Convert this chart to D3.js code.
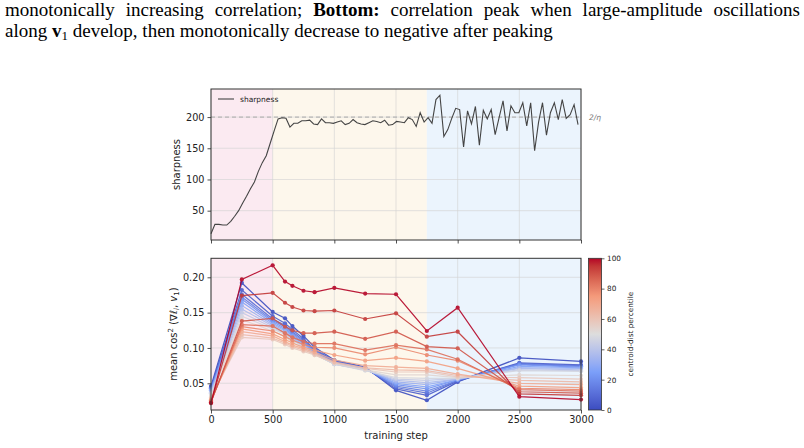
<!DOCTYPE html>
<html>
<head>
<meta charset="utf-8">
<script src="https://cdn.jsdelivr.net/npm/d3@7"></script>
<style>
  body { margin: 0; background: #fff; }
  svg { display: block; }
  .tick text { font-family: "DejaVu Sans", sans-serif; fill: #222; }
  .cap { font-family: "Liberation Serif", "Times New Roman", serif; font-size: 19px; fill: #000; }
</style>
</head>
<body>
<div id="chart"></div>
<script>
// ---------------- data ----------------
// sharpness logged every 32 steps (0 ... 2976)
const sharpEvery = 32;
const sharpness = [
  13, 28, 28, 27, 27, 33, 41, 50, 62, 73, 85, 96, 113, 127, 138, 158, 178, 197, 199, 198,
  184, 190, 190, 194, 194, 195, 189, 188, 197, 191, 191, 190, 192, 194, 188, 190, 196, 191, 189, 188,
  191, 194, 193, 191, 195, 187, 188, 193, 192, 191, 199, 196, 185, 207, 192, 199, 190, 228, 235, 169,
  180, 198, 214, 212, 152, 210, 189, 217, 155, 211, 197, 212, 172, 199, 226, 178, 218, 207, 207, 223,
  186, 223, 146, 192, 223, 171, 207, 223, 196, 228, 198, 204, 220, 188
];
const twoOverEta = 200;

// phases
const phases = [
  { from: 0, to: 500, color: "#fbeaf1" },
  { from: 500, to: 1750, color: "#fdf7ec" },
  { from: 1750, to: 3000, color: "#ebf4fd" }
];

// bottom panel: steps and mean cos^2 per centroid-distance percentile group
const steps = [0, 250, 500, 600, 660, 750, 840, 1000, 1250, 1500, 1750, 2000, 2500, 3000];
const cosSeries = [
  [0.046, 0.192, 0.151, 0.142, 0.131, 0.117, 0.101, 0.083, 0.073, 0.040, 0.026, 0.052, 0.086, 0.081],
  [0.044, 0.182, 0.145, 0.135, 0.126, 0.113, 0.098, 0.082, 0.072, 0.042, 0.033, 0.053, 0.079, 0.076],
  [0.043, 0.176, 0.141, 0.132, 0.123, 0.111, 0.097, 0.081, 0.072, 0.044, 0.036, 0.054, 0.078, 0.075],
  [0.042, 0.172, 0.139, 0.130, 0.121, 0.109, 0.096, 0.080, 0.071, 0.046, 0.039, 0.054, 0.077, 0.074],
  [0.041, 0.169, 0.137, 0.128, 0.119, 0.107, 0.095, 0.079, 0.071, 0.048, 0.042, 0.055, 0.076, 0.073],
  [0.040, 0.165, 0.135, 0.126, 0.117, 0.106, 0.094, 0.078, 0.070, 0.050, 0.045, 0.055, 0.074, 0.072],
  [0.039, 0.160, 0.133, 0.124, 0.115, 0.104, 0.093, 0.078, 0.070, 0.052, 0.048, 0.056, 0.072, 0.071],
  [0.037, 0.155, 0.131, 0.122, 0.113, 0.103, 0.092, 0.077, 0.069, 0.054, 0.051, 0.056, 0.071, 0.069],
  [0.036, 0.150, 0.129, 0.120, 0.112, 0.102, 0.091, 0.077, 0.069, 0.056, 0.054, 0.057, 0.069, 0.068],
  [0.035, 0.145, 0.127, 0.119, 0.111, 0.101, 0.091, 0.077, 0.068, 0.058, 0.057, 0.057, 0.068, 0.067],
  [0.032, 0.140, 0.124, 0.116, 0.108, 0.099, 0.090, 0.078, 0.069, 0.062, 0.062, 0.058, 0.062, 0.061],
  [0.030, 0.115, 0.112, 0.105, 0.100, 0.095, 0.090, 0.079, 0.071, 0.066, 0.066, 0.059, 0.058, 0.056],
  [0.028, 0.119, 0.114, 0.107, 0.102, 0.097, 0.092, 0.080, 0.072, 0.069, 0.068, 0.061, 0.054, 0.052],
  [0.027, 0.123, 0.117, 0.109, 0.104, 0.099, 0.094, 0.083, 0.075, 0.073, 0.071, 0.063, 0.050, 0.048],
  [0.026, 0.127, 0.120, 0.112, 0.107, 0.101, 0.097, 0.090, 0.082, 0.086, 0.081, 0.071, 0.046, 0.044],
  [0.025, 0.130, 0.124, 0.116, 0.111, 0.105, 0.101, 0.100, 0.091, 0.101, 0.090, 0.082, 0.043, 0.041],
  [0.024, 0.133, 0.131, 0.121, 0.115, 0.109, 0.106, 0.106, 0.097, 0.104, 0.098, 0.084, 0.041, 0.039],
  [0.023, 0.138, 0.142, 0.130, 0.125, 0.121, 0.121, 0.123, 0.113, 0.123, 0.102, 0.0995, 0.038, 0.036],
  [0.022, 0.174, 0.178, 0.164, 0.158, 0.153, 0.152, 0.153, 0.141, 0.149, 0.116, 0.123, 0.035, 0.033],
  [0.022, 0.197, 0.217, 0.194, 0.188, 0.181, 0.179, 0.185, 0.177, 0.176, 0.124, 0.157, 0.031, 0.027]
];
const xTicks = [0, 500, 1000, 1500, 2000, 2500, 3000];
const topYTicks = [50, 100, 150, 200];
const botYTicks = [0.05, 0.10, 0.15, 0.20];
const cbTicks = [0, 20, 40, 60, 80, 100];

// ---------------- init ----------------
const width = 804, height = 448;
const svg = d3.select("#chart").append("svg").attr("width", width).attr("height", height);

// coolwarm colormap
const coolwarm = d3.scaleLinear()
  .domain([0, 0.25, 0.5, 0.75, 1])
  .range(["#3b4cc0", "#7b9ff9", "#dddddd", "#f49a7b", "#b40426"])
  .interpolate(d3.interpolateLab);

const x = d3.scaleLinear().domain([0, 3000]).range([211, 581]);
const yTop = d3.scaleLinear().domain([3, 245]).range([240, 89]);
const yBot = d3.scaleLinear().domain([0.0122, 0.2269]).range([410, 258.3]);

// caption (first line is justified to the page width)
const cap = svg.append("g").attr("class", "cap");
const l1 = cap.append("text").attr("x", 5).attr("y", 16);
l1.append("tspan").text("monotonically increasing correlation; ");
l1.append("tspan").attr("font-weight", "bold").text("Bottom:");
l1.append("tspan").text(" correlation peak when large-amplitude oscillations");
const gap = (800 - 5 - l1.node().getComputedTextLength()) / 8;
l1.attr("word-spacing", Math.max(0, gap));
const l2 = cap.append("text").attr("x", 5).attr("y", 37);
l2.append("tspan").text("along ");
l2.append("tspan").attr("font-weight", "bold").text("v");
l2.append("tspan").attr("font-size", "13px").attr("dy", 3).text("1");
l2.append("tspan").attr("dy", -3).text(" develop, then monotonically decrease to negative after peaking");

// panel helper
function panel(y, ticksY, fmt, showXLabels) {
  const [y0, y1] = y.range();
  const g = svg.append("g");
  g.selectAll("rect.phase").data(phases).enter().append("rect")
    .attr("x", d => x(d.from)).attr("width", d => x(d.to) - x(d.from))
    .attr("y", y1).attr("height", y0 - y1)
    .attr("fill", d => d.color);
  // grid
  g.selectAll("line.gx").data(xTicks).enter().append("line")
    .attr("x1", d => x(d)).attr("x2", d => x(d)).attr("y1", y1).attr("y2", y0)
    .attr("stroke", "#d4d4d4").attr("stroke-width", 0.8).attr("opacity", 0.8);
  g.selectAll("line.gy").data(ticksY).enter().append("line")
    .attr("x1", x(0)).attr("x2", x(3000)).attr("y1", d => y(d)).attr("y2", d => y(d))
    .attr("stroke", "#d4d4d4").attr("stroke-width", 0.8).attr("opacity", 0.8);
  // axes
  const ax = g.append("g").attr("transform", `translate(0,${y0})`)
    .call(d3.axisBottom(x).tickValues(xTicks).tickSize(3.5).tickPadding(3)
      .tickFormat(showXLabels ? d3.format("d") : ""));
  const ay = g.append("g").attr("transform", `translate(${x(0)},0)`)
    .call(d3.axisLeft(y).tickValues(ticksY).tickSize(3.5).tickPadding(3).tickFormat(fmt));
  [ax, ay].forEach(a => {
    a.select(".domain").remove();
    a.selectAll(".tick line").attr("stroke", "#222").attr("stroke-width", 0.8);
    a.selectAll(".tick text").attr("font-size", "9.7px");
  });
  return g;
}
function frame(y) {
  const [y0, y1] = y.range();
  svg.append("rect").attr("x", x(0)).attr("y", y1).attr("width", x(3000) - x(0)).attr("height", y0 - y1)
    .attr("fill", "none").attr("stroke", "#333").attr("stroke-width", 1);
}

// ---------------- top panel ----------------
panel(yTop, topYTicks, d3.format("d"), false);
svg.append("line")
  .attr("x1", x(0)).attr("x2", x(3000)).attr("y1", yTop(twoOverEta)).attr("y2", yTop(twoOverEta))
  .attr("stroke", "#aaa").attr("stroke-width", 1).attr("stroke-dasharray", "4,3");
svg.append("path")
  .datum(sharpness)
  .attr("d", d3.line().x((d, i) => x(i * sharpEvery)).y(d => yTop(d)))
  .attr("fill", "none").attr("stroke", "#444").attr("stroke-width", 1.1);
frame(yTop);
svg.append("text").attr("x", 589).attr("y", yTop(twoOverEta) + 3)
  .attr("font-family", "DejaVu Sans").attr("font-size", "7.5px").attr("fill", "#777")
  .attr("font-style", "italic").text("2/η");
// legend
svg.append("line").attr("x1", 218).attr("x2", 234).attr("y1", 99).attr("y2", 99)
  .attr("stroke", "#444").attr("stroke-width", 1.1);
svg.append("text").attr("x", 240).attr("y", 101.5)
  .attr("font-family", "DejaVu Sans").attr("font-size", "7.5px").attr("fill", "#222").text("sharpness");
svg.append("text")
  .attr("transform", `translate(180,${(yTop.range()[0] + yTop.range()[1]) / 2}) rotate(-90)`)
  .attr("text-anchor", "middle").attr("font-family", "DejaVu Sans").attr("font-size", "10px")
  .attr("fill", "#222").text("sharpness");

// ---------------- bottom panel ----------------
panel(yBot, botYTicks, d3.format(".2f"), true);
const line = d3.line().x((d, i) => x(steps[i])).y(d => yBot(d));
const groups = svg.append("g").selectAll("g.series").data(cosSeries).enter().append("g")
  .attr("opacity", 0.9);
groups.append("path")
  .attr("d", d => line(d))
  .attr("fill", "none")
  .attr("stroke", (d, i) => coolwarm(i / (cosSeries.length - 1)))
  .attr("stroke-width", 1.2);
groups.each(function (d, si) {
  d3.select(this).selectAll("circle").data(d).enter().append("circle")
    .attr("cx", (v, i) => x(steps[i])).attr("cy", v => yBot(v)).attr("r", 2.1)
    .attr("fill", coolwarm(si / (cosSeries.length - 1)));
});
frame(yBot);

svg.append("text").attr("x", (x(0) + x(3000)) / 2).attr("y", 438.5)
  .attr("text-anchor", "middle").attr("font-family", "DejaVu Sans").attr("font-size", "10px")
  .attr("fill", "#222").text("training step");
const yl = svg.append("text")
  .attr("transform", `translate(177,${(yBot.range()[0] + yBot.range()[1]) / 2}) rotate(-90)`)
  .attr("text-anchor", "middle").attr("font-family", "DejaVu Sans").attr("font-size", "10px")
  .attr("fill", "#222");
yl.append("tspan").text("mean cos");
yl.append("tspan").attr("font-size", "7px").attr("dy", -4).text("2");
yl.append("tspan").attr("dy", 4).text(" (∇");
yl.append("tspan").attr("font-style", "italic").text("ℓ");
yl.append("tspan").attr("font-size", "7px").attr("font-style", "italic").attr("dy", 2).text("i");
yl.append("tspan").attr("dy", -2).text(", ");
yl.append("tspan").attr("font-style", "italic").text("v");
yl.append("tspan").attr("font-size", "7px").attr("dy", 2).text("1");
yl.append("tspan").attr("dy", -2).text(")");

// ---------------- colorbar ----------------
const cb = d3.scaleLinear().domain([0, 100]).range([410, 258.3]);
const grad = svg.append("defs").append("linearGradient").attr("id", "cw")
  .attr("x1", 0).attr("y1", 1).attr("x2", 0).attr("y2", 0);
grad.selectAll("stop").data(d3.range(0, 1.0001, 0.05)).enter().append("stop")
  .attr("offset", d => d).attr("stop-color", d => coolwarm(d));
svg.append("rect").attr("x", 588.5).attr("y", cb(100)).attr("width", 13).attr("height", cb(0) - cb(100))
  .attr("fill", "url(#cw)").attr("stroke", "#333").attr("stroke-width", 0.8);
const acb = svg.append("g").attr("transform", "translate(601.5,0)")
  .call(d3.axisRight(cb).tickValues(cbTicks).tickSize(3).tickPadding(2.5));
acb.select(".domain").remove();
acb.selectAll(".tick line").attr("stroke", "#222").attr("stroke-width", 0.7);
acb.selectAll(".tick text").attr("font-size", "7.3px");
svg.append("text")
  .attr("transform", `translate(633,${(cb(0) + cb(100)) / 2}) rotate(-90)`)
  .attr("text-anchor", "middle").attr("font-family", "DejaVu Sans").attr("font-size", "7.3px")
  .attr("fill", "#222").text("centroid-dist percentile");
</script>
</body>
</html>
